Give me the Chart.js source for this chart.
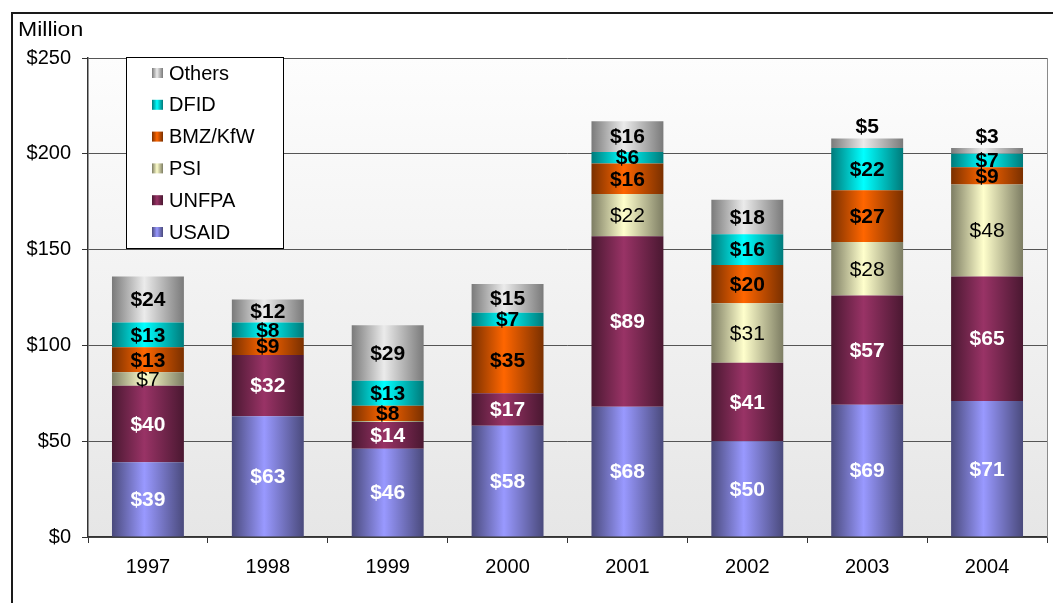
<!DOCTYPE html>
<html>
<head>
<meta charset="utf-8">
<script src="https://cdn.jsdelivr.net/npm/chart.js@4/dist/chart.umd.min.js"></script>
<style>
  body { margin: 0; background: #fff; }
  #wrap { width: 1053px; height: 603px; }
</style>
</head>
<body>
<div id="wrap"><canvas id="myChart"></canvas></div>
<script>
const years = ['1997', '1998', '1999', '2000', '2001', '2002', '2003', '2004'];
const usaid = [39, 63, 46, 58, 68, 50, 69, 71];
const unfpa = [40, 32, 14, 17, 89, 41, 57, 65];
const psi = [7, 0, 0.5, 0, 22, 31, 28, 48];
const bmz = [13, 9, 8, 35, 16, 20, 27, 9];
const dfid = [13, 8, 13, 7, 6, 16, 22, 7];
const others = [24, 12, 29, 15, 16, 18, 5, 3];
const yTicks = [0, 50, 100, 150, 200, 250];

const FONT = '"Liberation Sans", Arial, sans-serif';

// horizontal "cylinder" shading like the old Excel bars
function barFill(bright, dark) {
  return (c) => {
    const chart = c.chart;
    const x = chart.scales.x;
    if (!x || c.type !== 'data' || !chart.chartArea) return bright;
    const cx = x.getPixelForValue(c.dataIndex);
    const w = (x.width / years.length) * 0.6;
    const g = chart.ctx.createLinearGradient(cx - w / 2, 0, cx + w / 2, 0);
    g.addColorStop(0, dark);
    g.addColorStop(0.45, bright);
    g.addColorStop(1, dark);
    return g;
  };
}

const series = [
  { label: 'USAID', data: usaid, bright: '#9999ff', dark: '#4a4a7c', txt: '#fff', bold: true },
  { label: 'UNFPA', data: unfpa, bright: '#993366', dark: '#4a1831', txt: '#fff', bold: true },
  { label: 'PSI', data: psi, bright: '#ffffcc', dark: '#7d7d63', txt: '#000', bold: false },
  { label: 'BMZ/KfW', data: bmz, bright: '#ff6600', dark: '#7a3000', txt: '#000', bold: true },
  { label: 'DFID', data: dfid, bright: '#00ffff', dark: '#007a7a', txt: '#000', bold: true },
  { label: 'Others', data: others, bright: '#ebebeb', dark: '#7a7a7a', txt: '#000', bold: true }
];

const framePlugin = {
  id: 'frame',
  beforeDraw(chart) {
    const { ctx, chartArea: a } = chart;
    ctx.save();
    const g = ctx.createLinearGradient(0, a.top, 0, a.bottom);
    g.addColorStop(0, '#fdfdfd');
    g.addColorStop(1, '#e6e6e6');
    ctx.fillStyle = g;
    ctx.fillRect(a.left, a.top, a.right - a.left, a.bottom - a.top);
    ctx.restore();
  },
  afterDraw(chart) {
    const { ctx, chartArea: a } = chart;
    ctx.save();
    // outer frame
    ctx.strokeStyle = '#1a1a1a';
    ctx.lineWidth = 2;
    ctx.beginPath();
    ctx.moveTo(1053, 13);
    ctx.lineTo(12, 13);
    ctx.lineTo(12, 603);
    ctx.stroke();
    // plot right border
    ctx.strokeStyle = '#8a8a8a';
    ctx.lineWidth = 1;
    ctx.beginPath();
    ctx.moveTo(a.right + 0.5, a.top);
    ctx.lineTo(a.right + 0.5, a.bottom);
    ctx.stroke();
    // unit label (slightly wide, like the original)
    ctx.save();
    ctx.translate(18, 36);
    ctx.scale(1.15, 1);
    ctx.fillStyle = '#000';
    ctx.font = '20px ' + FONT;
    ctx.textBaseline = 'alphabetic';
    ctx.fillText('Million', 0, 0);
    ctx.restore();

    // legend box
    const lx = 126, ly = 57, lw = 157, lh = 191;
    ctx.fillStyle = '#fff';
    ctx.fillRect(lx, ly, lw, lh);
    ctx.strokeStyle = '#000';
    ctx.strokeRect(lx + 0.5, ly + 0.5, lw, lh);
    const rows = series.slice().reverse();
    rows.forEach((s, i) => {
      const cy = 73 + i * 31.8;
      const g = ctx.createLinearGradient(152, 0, 163, 0);
      g.addColorStop(0, s.dark);
      g.addColorStop(0.45, s.bright);
      g.addColorStop(1, s.dark);
      ctx.fillStyle = g;
      ctx.fillRect(152, cy - 5, 11, 10);
      ctx.fillStyle = '#000';
      ctx.font = '20px ' + FONT;
      ctx.textBaseline = 'middle';
      ctx.fillText(s.label, 169, cy + 1);
    });
    ctx.restore();
  },
  afterDatasetsDraw(chart) {
    const ctx = chart.ctx;
    ctx.save();
    ctx.textAlign = 'center';
    ctx.textBaseline = 'middle';
    chart.data.datasets.forEach((ds, di) => {
      const s = series[di];
      const meta = chart.getDatasetMeta(di);
      meta.data.forEach((el, i) => {
        const v = ds.data[i];
        if (v < 1) return;
        const h = el.base - el.y;
        let y = (el.y + el.base) / 2;
        if (di === series.length - 1 && h < 20) y = el.y - 12;
        ctx.font = (s.bold ? 'bold ' : '') + '21px ' + FONT;
        ctx.fillStyle = (di === series.length - 1 && h < 20) ? '#000' : s.txt;
        ctx.fillText('$' + v, el.x, y + 1);
      });
    });
    ctx.restore();
  }
};

const ctx = document.getElementById('myChart').getContext('2d');
const myChart = new Chart(ctx, {
  type: 'bar',
  data: {
    labels: years,
    datasets: series.map(s => ({
      label: s.label,
      data: s.data,
      backgroundColor: barFill(s.bright, s.dark),
      borderWidth: 0,
      categoryPercentage: 1,
      barPercentage: 0.6
    }))
  },
  options: {
    responsive: true,
    maintainAspectRatio: false,
    animation: false,
    layout: { padding: { top: 58, right: 6, left: 0, bottom: 0 } },
    plugins: {
      legend: { display: false },
      tooltip: { enabled: false }
    },
    scales: {
      x: {
        stacked: true,
        afterFit: (s) => { s.height = 66; },
        grid: {
          offset: true,
          drawOnChartArea: false,
          drawTicks: true,
          tickLength: 6,
          tickColor: '#333'
        },
        border: { color: '#333', width: 1.5 },
        ticks: { color: '#000', font: { family: FONT, size: 20 }, padding: 12 }
      },
      y: {
        stacked: true,
        min: 0,
        max: 250,
        afterFit: (s) => { s.width = 88; },
        afterBuildTicks: (s) => { s.ticks = yTicks.map(v => ({ value: v })); },
        grid: {
          color: '#555',
          borderDash: [9, 6],
          tickLength: 6,
          tickColor: '#333',
          tickBorderDash: []
        },
        border: { color: '#333', width: 1.5 },
        ticks: {
          color: '#000',
          font: { family: FONT, size: 20 },
          padding: 11,
          callback: (v) => '$' + v
        }
      }
    }
  },
  plugins: [framePlugin]
});
</script>
</body>
</html>
